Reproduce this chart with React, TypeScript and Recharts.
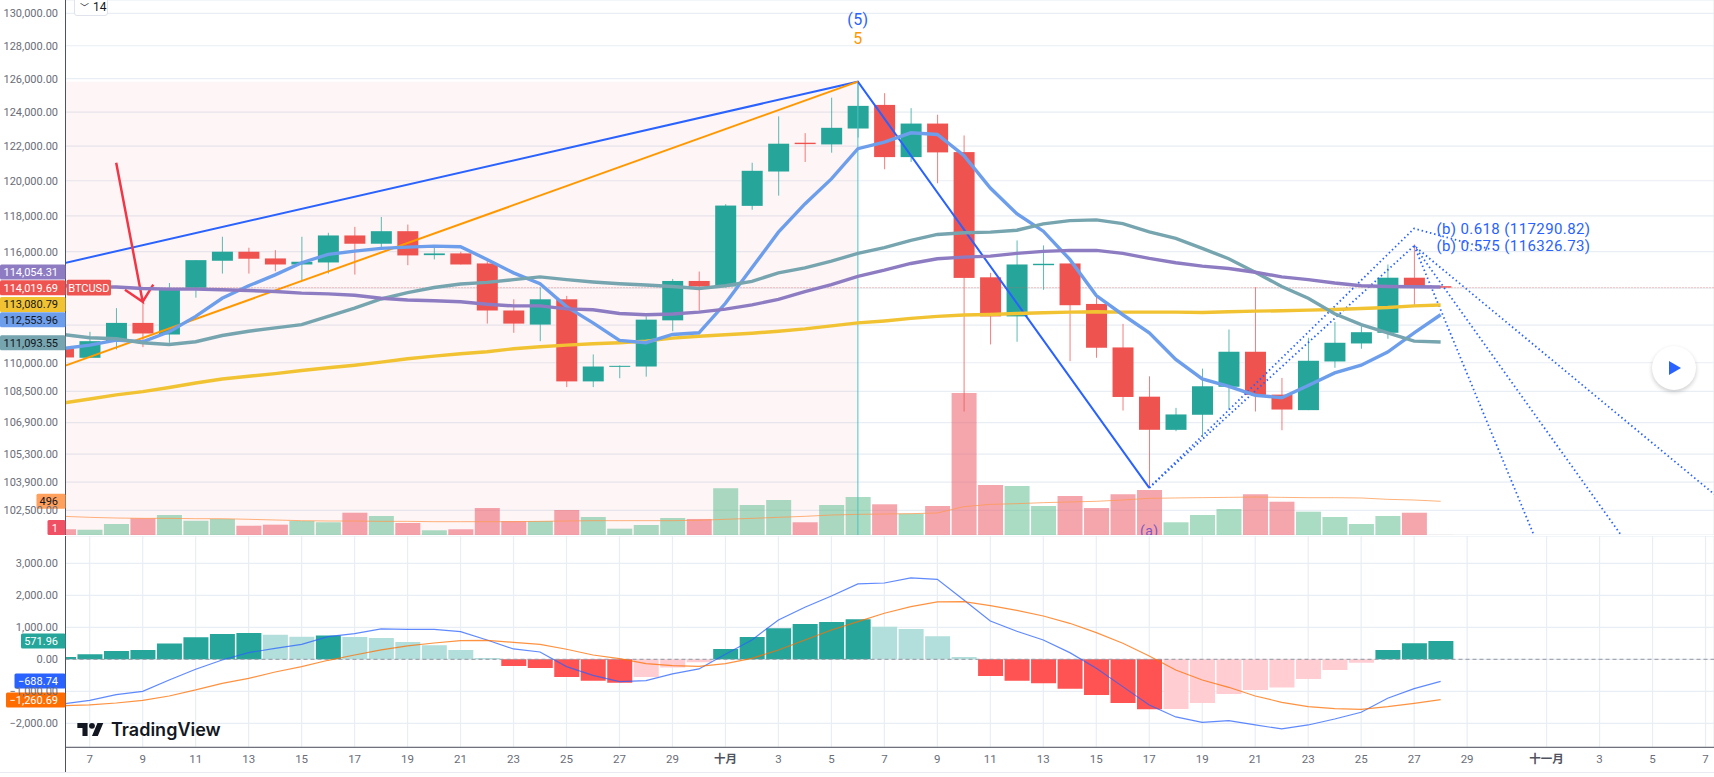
import {
  ComposedChart,
  Bar,
  Line,
  Cell,
  XAxis,
  YAxis,
  CartesianGrid,
  ReferenceArea,
  ReferenceDot,
  ReferenceLine,
} from 'recharts'

// ---------------------------------------------------------------------------
// Data: day 0 is 7 September, one row per daily candle
// ---------------------------------------------------------------------------
const days = [
  -1, 0, 1, 2, 3, 4, 5, 6, 7, 8, 9, 10, 11, 12, 13, 14, 15, 16, 17, 18, 19, 20, 21, 22, 23, 24, 25, 26, 27, 28, 29,
  30, 31, 32, 33, 34, 35, 36, 37, 38, 39, 40, 41, 42, 43, 44, 45, 46, 47, 48, 49, 50, 51,
]
const opens = [
  110756, 110261, 111141, 112115, 111496, 114014, 115497, 115996, 115624, 115291, 115402, 116901, 116440, 117140,
  115807, 115902, 115347, 112782, 112025, 113387, 109024, 109786, 109802, 112253, 114386, 114086, 118567, 120530,
  122201, 122102, 123033, 124430, 121363, 123325, 121654, 114586, 112465, 115252, 115347, 113136, 110808, 108231,
  106528, 107299, 108744, 110580, 108336, 107536, 110067, 111019, 111586, 114564, 114100,
]
const highs = [
  110967, 111639, 112909, 113258, 114275, 115530, 116829, 116218, 116085, 116829, 117051, 117384, 117940, 117512,
  116218, 115996, 115475, 113387, 114031, 113572, 110437, 109855, 112465, 114497, 114902, 118661, 121036, 123749,
  122760, 124861, 125820, 125130, 124238, 123848, 122626, 114830, 116624, 116346, 115347, 113531, 112062, 109289,
  107652, 109691, 111760, 114047, 109205, 111320, 112168, 111936, 115291, 116402, 114110,
]
const lows = [
  110279, 110261, 110702, 110824, 111056, 113476, 114791, 114791, 114919, 114437, 114791, 114736, 116218, 115252,
  115569, 115291, 112078, 111586, 111141, 108728, 108728, 109188, 109272, 111671, 112782, 114031, 118345, 119147,
  121082, 121619, 122500, 120659, 121082, 119853, 107466, 110967, 111110, 113903, 110083, 110261, 107516, 103603,
  106457, 106205, 107552, 107466, 106508, 107536, 109734, 110739, 111269, 113083, 114000,
]
const closes = [
  110279, 111141, 112115, 111549, 113903, 115530, 115996, 115608, 115291, 115441, 116901, 116440, 117140, 115791,
  115902, 115291, 112782, 112078, 113387, 109024, 109802, 109838, 112290, 114386, 114086, 118584, 120571, 122143,
  122120, 123074, 124372, 121363, 123325, 121637, 114553, 112465, 115291, 115330, 113067, 110792, 108215, 106531,
  107315, 108770, 110580, 108320, 107567, 110104, 111056, 111618, 114564, 114086, 114019.69,
]
const emaFast = [
  110756, 110930, 111194, 111109, 111639, 112464, 113442, 114125, 114719, 115386, 115846, 116030, 116180, 116252,
  116307, 116274, 115569, 114830, 114236, 112993, 112115, 111178, 111057, 111496, 111586, 113173, 115108, 117085,
  118678, 120105, 121851, 122235, 122783, 122684, 121461, 119581, 118123, 117140, 115569, 113587, 112554, 111586,
  110173, 109151, 108760, 108305, 108178, 108813, 109469, 109871, 110559, 111586, 112553.96,
]
const emaMid = [
  111496, 111321, 111268, 111057, 110967, 111109, 111443, 111670, 111850, 112025, 112464, 112909, 113404, 113753,
  114031, 114220, 114308, 114458, 114608, 114458, 114331, 114236, 114164, 114086, 113975, 114125, 114364, 114830,
  115108, 115474, 115902, 116218, 116624, 116957, 117051, 117085, 117196, 117551, 117734, 117773, 117568, 117107,
  116735, 116180, 115608, 114864, 114086, 113442, 112607, 112025, 111586, 111141, 111093.55,
]
const emaSlow = [
  114125, 114070, 114053, 113975, 113942, 113942, 113903, 113864, 113809, 113720, 113681, 113609, 113442, 113348,
  113311, 113258, 113120, 113030, 113030, 112872, 112819, 112623, 112554, 112591, 112697, 112856, 113083, 113387,
  113809, 114181, 114642, 114975, 115347, 115608, 115697, 115752, 115902, 116013, 116068, 116068, 115902, 115624,
  115386, 115197, 115069, 114864, 114608, 114458, 114275, 114125, 114086, 114070, 114054.31,
]
const emaLong = [
  107905, 108109, 108321, 108495, 108707, 108940, 109151, 109289, 109432, 109591, 109734, 109871, 110030, 110210,
  110347, 110474, 110580, 110739, 110845, 110930, 111004, 111057, 111141, 111300, 111406, 111480, 111565, 111670,
  111797, 111956, 112115, 112221, 112358, 112464, 112538, 112570, 112623, 112660, 112697, 112713, 112697, 112697,
  112697, 112676, 112713, 112750, 112766, 112803, 112835, 112888, 112941, 113030, 113080.79,
]
const volumes = [
  84, 78, 162, 246, 294, 210, 236, 137, 152, 206, 187, 328, 280, 177, 69, 84, 397, 206, 206, 368, 265, 93, 147, 250,
  236, 687, 442, 515, 187, 442, 559, 452, 314, 427, 2090, 736, 721, 427, 574, 397, 599, 662, 187, 294, 383, 599, 490,
  343, 265, 162, 280, 328, 1,
]
const volumeMa = [
  275, 260, 250, 245, 245, 240, 240, 231, 221, 211, 206, 206, 201, 201, 196, 196, 196, 196, 201, 206, 211, 211, 211,
  211, 216, 231, 245, 260, 275, 294, 304, 309, 314, 324, 417, 451, 461, 476, 486, 496, 515, 540, 545, 550, 554, 559,
  554, 549, 549, 545, 525, 515, 496,
]
const macdHist = [
  73, 156, 260, 292, 490, 688, 792, 823, 771, 708, 740, 698, 667, 542, 438, 292, 42, -208, -271, -552, -667, -729,
  -552, -260, -94, 323, 698, 969, 1104, 1167, 1250, 1021, 948, 719, 73, -521, -667, -750, -917, -1115, -1365, -1563,
  -1552, -1365, -1083, -958, -885, -615, -333, -104, 292, 500, 571.96,
]
const macdLine = [
  -1396, -1281, -1104, -1000, -646, -312, -21, 208, 344, 469, 708, 802, 948, 938, 938, 865, 604, 323, 229, -229, -500,
  -698, -667, -458, -302, 156, 604, 1229, 1625, 1979, 2354, 2385, 2542, 2500, 1854, 1198, 875, 604, 208, -281, -854,
  -1427, -1802, -1969, -1917, -2052, -2177, -2052, -1865, -1656, -1219, -917, -688.74,
]
const signalLine = [
  -1448, -1427, -1365, -1281, -1146, -958, -750, -594, -396, -229, -31, 135, 292, 417, 510, 583, 594, 531, 469, 313,
  135, 21, -135, -198, -219, -135, 31, 292, 604, 917, 1177, 1438, 1646, 1792, 1802, 1677, 1531, 1354, 1125, 833, 500,
  104, -333, -646, -875, -1146, -1344, -1479, -1542, -1563, -1479, -1375, -1260.69,
]

// ticks
const priceTicks = [
  130000, 128000, 126000, 124000, 122000, 120000, 118000, 116000, 114000, 112000, 110000, 108500, 106900, 105300,
  103900, 102500,
]
// these two sit under the price tags, only their grid lines show
const coveredPriceTicks = [114000, 112000]
const macdTicks = [3000, 2000, 1000, 0, -1000, -2000]
const dayTicks = [
  0, 2, 4, 6, 8, 10, 12, 14, 16, 18, 20, 22, 24, 26, 28, 30, 32, 34, 36, 38, 40, 42, 44, 46, 48, 50, 52, 55, 57, 59, 61,
]
const dayLabels = [
  '7', '9', '11', '13', '15', '17', '19', '21', '23', '25', '27', '29', '十月', '3', '5', '7', '9', '11', '13', '15',
  '17', '19', '21', '23', '25', '27', '29', '十一月', '3', '5', '7',
]

// drawings, in axis units
const peak = { day: 29, v: 125820 }
const low = { day: 40, v: 103617 }
const tipHigh = { day: 50, v: 117290.82 }
const tipLow = { day: 50, v: 116326.73 }
const blueWave = [{ day: -2, v: 115019 }, peak, low]
const orangeWave = [{ day: -2, v: 109310 }, peak]
const peakDrop = [peak, { day: 29, v: 101305 }]
const redArrow = [
  { day: 1, v: 121036 },
  { day: 2, v: 113258 },
  { day: 1.33, v: 113903 },
  { day: 2, v: 113258 },
  { day: 2.4, v: 114181 },
]
const fibLegs = [
  [low, tipHigh, { day: 52.93, v: 116113 }],
  [low, tipLow, { day: 62, v: 102576 }],
  [tipLow, { day: 58, v: 100962 }],
  [tipLow, { day: 55, v: 99820 }],
]

const lastPrice = 114019.69
const priceDomain = [101305, 130829]
const volumeDomain = [0, 7875]
const macdDomain = [-2750, 3853]
const dayDomain = [-0.914, 61.32]

const UP = '#26a69a'
const DOWN = '#ef5350'
const GRID = '#e8eef4'
const AXIS = '#50535e'
const TEXT = '#6a6d78'
const FONT = "Roboto, 'Noto Sans CJK SC', sans-serif"

const priceRows = days.map((day, i) => ({
  day,
  open: opens[i],
  high: highs[i],
  low: lows[i],
  close: closes[i],
  range: [lows[i], highs[i]],
  emaFast: emaFast[i],
  emaMid: emaMid[i],
  emaSlow: emaSlow[i],
  emaLong: emaLong[i],
  volume: volumes[i],
  volumeMa: volumeMa[i],
}))

const macdRows = days.map((day, i) => ({
  day,
  hist: macdHist[i],
  macd: macdLine[i],
  signal: signalLine[i],
}))

const histColor = (i: number) => {
  const v = macdHist[i]
  const rising = i === 0 || v >= macdHist[i - 1]
  if (v >= 0) return rising ? UP : '#b2dfdb'
  return rising ? '#ffcdd2' : '#ff5252'
}

const moneyLabel = (v: number) =>
  (v < 0 ? '\u2212' : '') + Math.abs(v).toLocaleString('en-US', { minimumFractionDigits: 2, maximumFractionDigits: 2 })

const priceTickLabel = (v: number) => (coveredPriceTicks.includes(v) ? '' : moneyLabel(v))

// ---------------------------------------------------------------------------
// Shapes
// ---------------------------------------------------------------------------
function Candle({ x, y, width, height, payload }: any) {
  const span = Math.log(payload.high) - Math.log(payload.low) || 1
  const at = (p: number) => y + (Math.abs(height) * (Math.log(payload.high) - Math.log(p))) / span
  const top = at(Math.max(payload.open, payload.close))
  const bottom = at(Math.min(payload.open, payload.close))
  const color = payload.close >= payload.open ? UP : DOWN
  const mid = x + width / 2
  return (
    <g>
      <line x1={mid} x2={mid} y1={y} y2={y + Math.abs(height)} stroke={color} strokeOpacity={0.75} strokeWidth={1} />
      <rect x={x} y={top} width={width} height={Math.max(bottom - top, 1)} fill={color} />
    </g>
  )
}

// ReferenceDot passes its own fill down to the shape, so colours travel as bg / ink
function AxisTag({ cx, cy, label, bg, ink, tagWidth }: any) {
  return (
    <g>
      <rect x={cx - tagWidth} y={cy - 7.5} width={tagWidth} height={15} rx={1.5} fill={bg} />
      <text x={cx - 7.5} y={cy + 0.5} textAnchor="end" dominantBaseline="central" fontSize={11} fontFamily={FONT} fill={ink}>
        {label}
      </text>
    </g>
  )
}

function PlotText({ cx, cy, label, ink, size, anchor = 'middle' }: any) {
  return (
    <text x={cx} y={cy} textAnchor={anchor} dominantBaseline="central" fontSize={size} fontFamily={FONT} letterSpacing={0.4} fill={ink}>
      {label}
    </text>
  )
}

function SymbolTag({ cx, cy }: any) {
  return (
    <g>
      <rect x={cx + 1.2} y={cy - 7.8} width={44.3} height={15.7} rx={1.5} fill={DOWN} />
      <text x={cx + 23.3} y={cy + 0.5} textAnchor="middle" dominantBaseline="central" fontSize={11} fontFamily={FONT} fill="#fff">
        BTCUSD
      </text>
    </g>
  )
}

function DayTick({ x, y, payload, index }: any) {
  const label = dayLabels[index ?? dayTicks.indexOf(payload.value)]
  const isMonth = label.endsWith('月')
  return (
    <text
      x={x}
      y={y}
      textAnchor="middle"
      dominantBaseline="central"
      fontSize={11.5}
      fontFamily={FONT}
      fontWeight={isMonth ? 700 : 400}
      fill={isMonth ? '#50535e' : TEXT}
    >
      {label}
    </text>
  )
}

const priceTags = [
  { label: '114,054.31', at: 114875, bg: '#8e7cc3', ink: '#fff', tagWidth: 65.5 },
  { label: '114,019.69', at: lastPrice, bg: DOWN, ink: '#fff', tagWidth: 65.5 },
  { label: '113,080.79', at: 113110, bg: '#f1c232', ink: '#131722', tagWidth: 65.5 },
  { label: '112,553.96', at: 112290, bg: '#6d9eeb', ink: '#131722', tagWidth: 65.5 },
  { label: '111,093.55', at: 111057, bg: '#76a5af', ink: '#131722', tagWidth: 65.5 },
]
const volumeTags = [
  { label: '496', at: 496, bg: '#ffa05c', ink: '#131722', tagWidth: 29 },
  { label: '1', at: 110, bg: '#ef5064', ink: '#fff', tagWidth: 18 },
]
const macdTags = [
  { label: '571.96', at: 571.96, bg: UP, ink: '#fff', tagWidth: 44.5 },
  { label: '\u2212688.74', at: -675, bg: '#2962ff', ink: '#fff', tagWidth: 51 },
  { label: '\u22121,260.69', at: -1270, bg: '#ff6d00', ink: '#fff', tagWidth: 59.5 },
]

// ---------------------------------------------------------------------------
// Panels
// ---------------------------------------------------------------------------
function PricePanel() {
  return (
    <ComposedChart width={1714} height={535} data={priceRows} margin={{ top: 0, right: 0, bottom: 0, left: 0 }}>
      <CartesianGrid stroke={GRID} strokeWidth={1.2} xAxisId="days" yAxisId="price" />
      <XAxis
        xAxisId="days"
        type="number"
        dataKey="day"
        domain={dayDomain}
        ticks={dayTicks}
        interval={0}
        allowDataOverflow
        height={0}
        tick={false}
        tickLine={false}
        axisLine={{ stroke: '#e0e3eb' }}
      />
      <XAxis xAxisId="vol" type="number" dataKey="day" domain={dayDomain} allowDataOverflow hide />
      {/* hand drawings have fractional days, keep them off the candle axis so bars stay wide */}
      <XAxis xAxisId="draw" type="number" dataKey="day" domain={dayDomain} allowDataOverflow hide />
      <YAxis
        yAxisId="price"
        scale="log"
        domain={priceDomain}
        ticks={priceTicks}
        interval={0}
        allowDataOverflow
        width={65.5}
        tickSize={0}
        tickMargin={7.5}
        tickFormatter={priceTickLabel}
        tick={{ fill: TEXT, fontSize: 11, fontFamily: FONT }}
        axisLine={{ stroke: AXIS }}
      />
      <YAxis yAxisId="vol" domain={volumeDomain} allowDataOverflow hide />

      <ReferenceArea
        xAxisId="days"
        yAxisId="price"
        x1={dayDomain[0]}
        x2={peak.day}
        y1={priceDomain[0]}
        y2={peak.v}
        fill="#f23645"
        fillOpacity={0.05}
        stroke="none"
      />

      <Bar xAxisId="vol" yAxisId="vol" dataKey="volume" barSize={25} isAnimationActive={false}>
        {priceRows.map((r) => (
          <Cell key={r.day} fill={r.close >= r.open ? '#53b987' : '#eb4d5c'} fillOpacity={0.5} />
        ))}
      </Bar>
      <Line xAxisId="vol" yAxisId="vol" dataKey="volumeMa" stroke="#ff9850" strokeOpacity={0.75} strokeWidth={1} dot={false} isAnimationActive={false} />

      <Line xAxisId="draw" yAxisId="price" data={peakDrop} dataKey="v" stroke="#4fc3c3" strokeWidth={1} dot={false} isAnimationActive={false} />
      <Line xAxisId="draw" yAxisId="price" data={blueWave} dataKey="v" stroke="#2962ff" strokeWidth={2} dot={false} isAnimationActive={false} />
      <Line xAxisId="draw" yAxisId="price" data={orangeWave} dataKey="v" stroke="#ff9800" strokeWidth={2} dot={false} isAnimationActive={false} />

      <ReferenceLine xAxisId="days" yAxisId="price" y={lastPrice} stroke={DOWN} strokeOpacity={0.6} strokeDasharray="1 2" />

      <Bar xAxisId="days" yAxisId="price" dataKey="range" barSize={21} shape={Candle} isAnimationActive={false} />

      <Line xAxisId="draw" yAxisId="price" data={redArrow} dataKey="v" stroke="#f23645" strokeWidth={2.5} dot={false} isAnimationActive={false} />
      {fibLegs.map((leg, i) => (
        <Line
          key={i}
          xAxisId="draw"
          yAxisId="price"
          data={leg}
          dataKey="v"
          stroke="#2962ff"
          strokeWidth={1.8}
          strokeDasharray="1.5 2.8"
          dot={false}
          isAnimationActive={false}
        />
      ))}

      <Line xAxisId="days" yAxisId="price" dataKey="emaLong" stroke="#f1c232" strokeWidth={3.4} dot={false} isAnimationActive={false} />
      <Line xAxisId="days" yAxisId="price" dataKey="emaFast" stroke="#6d9eeb" strokeWidth={3.4} dot={false} isAnimationActive={false} />
      <Line xAxisId="days" yAxisId="price" dataKey="emaMid" stroke="#76a5af" strokeWidth={3.4} dot={false} isAnimationActive={false} />
      <Line xAxisId="days" yAxisId="price" dataKey="emaSlow" stroke="#8e7cc3" strokeWidth={3.4} dot={false} isAnimationActive={false} />

      <ReferenceDot xAxisId="days" yAxisId="price" x={peak.day} y={129607} ifOverflow="visible" shape={<PlotText label="(5)" ink="#2962ff" size={16} />} />
      <ReferenceDot xAxisId="days" yAxisId="price" x={peak.day} y={128447} ifOverflow="visible" shape={<PlotText label="5" ink="#ff9800" size={16} />} />
      <ReferenceDot xAxisId="days" yAxisId="price" x={low.day} y={101494} ifOverflow="visible" shape={<PlotText label="(a)" ink="#7e57c2" size={14} />} />
      <ReferenceDot xAxisId="days" yAxisId="price" x={50.84} y={tipHigh.v} ifOverflow="visible" shape={<PlotText label="(b) 0.618 (117290.82)" ink="#2962ff" size={15} anchor="start" />} />
      <ReferenceDot xAxisId="days" yAxisId="price" x={50.84} y={tipLow.v} ifOverflow="visible" shape={<PlotText label="(b) 0.575 (116326.73)" ink="#2962ff" size={15} anchor="start" />} />

      <ReferenceDot xAxisId="days" yAxisId="price" x={dayDomain[0]} y={lastPrice} ifOverflow="visible" shape={<SymbolTag />} />
      {priceTags.map((t) => (
        <ReferenceDot key={t.label} xAxisId="days" yAxisId="price" x={dayDomain[0]} y={t.at} ifOverflow="visible" shape={<AxisTag {...t} />} />
      ))}
      {volumeTags.map((t) => (
        <ReferenceDot key={t.label} xAxisId="days" yAxisId="vol" x={dayDomain[0]} y={t.at} ifOverflow="visible" shape={<AxisTag {...t} />} />
      ))}
    </ComposedChart>
  )
}

function MacdPanel() {
  return (
    <ComposedChart width={1714} height={241} data={macdRows} margin={{ top: 0, right: 0, bottom: 0, left: 0 }}>
      <CartesianGrid stroke={GRID} strokeWidth={1.2} yAxisId="macd" />
      <XAxis
        type="number"
        dataKey="day"
        domain={dayDomain}
        ticks={dayTicks}
        interval={0}
        allowDataOverflow
        height={29.7}
        tickSize={0}
        tickMargin={12}
        tick={<DayTick />}
        axisLine={{ stroke: AXIS }}
      />
      <YAxis
        yAxisId="macd"
        domain={macdDomain}
        ticks={macdTicks}
        interval={0}
        allowDataOverflow
        width={65.5}
        tickSize={0}
        tickMargin={7.5}
        tickFormatter={moneyLabel}
        tick={{ fill: TEXT, fontSize: 11, fontFamily: FONT }}
        axisLine={{ stroke: AXIS }}
      />
      <ReferenceLine yAxisId="macd" y={0} stroke="#9598a1" strokeDasharray="4 3" />
      <Bar yAxisId="macd" dataKey="hist" barSize={25} isAnimationActive={false}>
        {macdRows.map((r, i) => (
          <Cell key={r.day} fill={histColor(i)} />
        ))}
      </Bar>
      <Line yAxisId="macd" dataKey="macd" stroke="#2962ff" strokeOpacity={0.75} strokeWidth={1.2} dot={false} isAnimationActive={false} />
      <Line yAxisId="macd" dataKey="signal" stroke="#ff6d00" strokeOpacity={0.75} strokeWidth={1.2} dot={false} isAnimationActive={false} />
      {macdTags.map((t) => (
        <ReferenceDot key={t.label} yAxisId="macd" x={dayDomain[0]} y={t.at} ifOverflow="visible" shape={<AxisTag {...t} />} />
      ))}
    </ComposedChart>
  )
}

// ---------------------------------------------------------------------------
// Page
// ---------------------------------------------------------------------------
export default function App() {
  return (
    <div style={{ position: 'fixed', left: 0, top: 0, width: 1714, height: 777, background: '#fff', overflow: 'hidden', fontFamily: FONT }}>
      <PricePanel />
      <div style={{ position: 'absolute', left: 0, top: 536, background: '#fff' }}>
        <MacdPanel />
      </div>

      {/* axis stub below the time scale, and the faint frame line */}
      <div style={{ position: 'absolute', left: 65, top: 747, width: 1, height: 25, background: AXIS }} />
      <div style={{ position: 'absolute', left: 0, top: 772, width: 1714, height: 1, background: '#e8ebf0' }} />

      {/* interval box */}
      <div
        style={{
          position: 'absolute',
          left: 74,
          top: -6,
          width: 34,
          height: 22,
          boxSizing: 'border-box',
          border: '1px solid #e0e3eb',
          borderRadius: 3,
          background: '#fff',
          color: '#131722',
          fontSize: 12,
          lineHeight: '24px',
          paddingLeft: 5,
        }}
      >
        <span style={{ fontSize: 9, marginRight: 4 }}>﹀</span>14
      </div>

      {/* logo */}
      <svg style={{ position: 'absolute', left: 77, top: 720 }} width={27} height={19} viewBox="0 0 36 26">
        <path d="M14 22H7V11H0V4h14v18zM28 22h-8l7.5-18h8L28 22z" fill="#131722" />
        <circle cx={20} cy={8} r={4} fill="#131722" />
      </svg>
      <div style={{ position: 'absolute', left: 111, top: 717, fontFamily: 'Inter', fontWeight: 600, fontSize: 18, lineHeight: '26px', color: '#131722' }}>
        TradingView
      </div>

      {/* play button */}
      <div
        style={{
          position: 'absolute',
          left: 1652,
          top: 346,
          width: 44,
          height: 44,
          borderRadius: 22,
          background: '#fff',
          boxShadow: '0 2px 4px rgba(0,0,0,0.2)',
        }}
      >
        <svg width={44} height={44}>
          <path d="M17 15 L29 22 L17 29 Z" fill="#2962ff" />
        </svg>
      </div>
    </div>
  )
}
